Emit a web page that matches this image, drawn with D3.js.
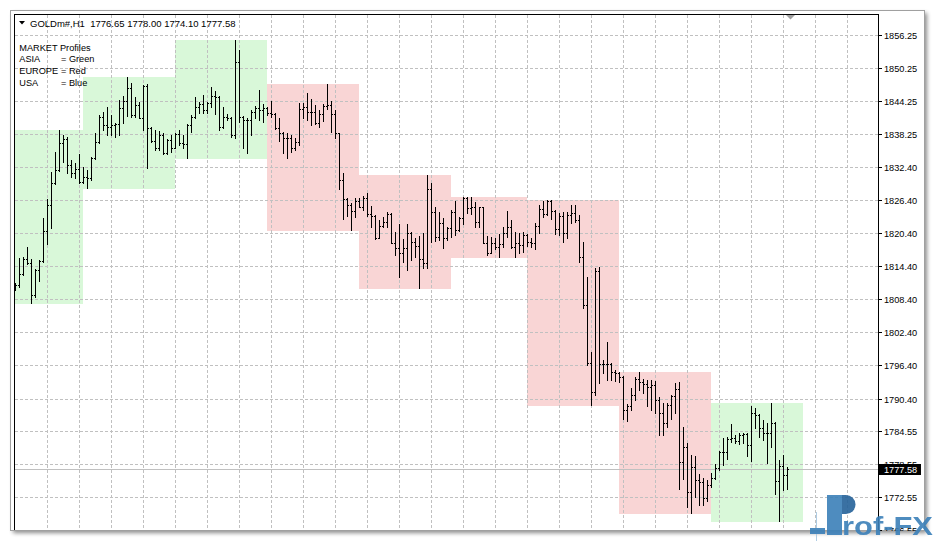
<!DOCTYPE html>
<html><head><meta charset="utf-8">
<script src="https://cdn.jsdelivr.net/npm/d3@7"></script>
<style>html,body{margin:0;padding:0;background:#fff;} svg{display:block;}</style>
</head><body><svg id="c" width="937" height="541"></svg>
<script>
// ---------------- data ----------------
const symbolTitle = "GOLDm#,H1";
const opens = [1810.40,1810.97,1812.96,1815.62,1814.89,1809.16,1813.69,1815.38,1820.74,1825.45,
1829.36,1831.78,1836.60,1837.32,1832.68,1831.29,1831.96,1829.67,1830.57,1830.27,
1833.89,1836.78,1841.43,1839.92,1839.62,1839.92,1840.04,1842.93,1844.26,1846.67,
1841.73,1843.54,1841.25,1847.03,1839.44,1837.02,1835.70,1838.11,1834.79,1837.21,
1835.82,1838.29,1836.60,1836.42,1839.92,1841.43,1843.24,1843.66,1842.63,1843.84,
1845.17,1845.04,1839.62,1841.43,1841.12,1838.11,1851.38,1841.43,1840.82,1840.82,
1842.21,1842.93,1842.63,1843.05,1842.03,1841.91,1839.32,1838.53,1837.51,1837.51,
1835.70,1836.91,1842.75,1843.12,1842.21,1842.33,1840.22,1841.91,1843.42,1843.54,
1841.91,1838.41,1829.97,1826.47,1825.45,1824.42,1826.23,1825.15,1826.65,1823.82,
1823.46,1819.54,1821.65,1822.43,1823.82,1818.63,1817.61,1816.83,1817.61,1820.44,
1818.69,1818.03,1815.62,1814.90,1828.28,1824.24,1819.72,1822.13,1819.42,1821.23,
1824.24,1820.93,1823.04,1826.65,1824.97,1825.15,1822.43,1825.03,1818.63,1816.83,
1818.51,1817.91,1818.39,1820.44,1821.41,1817.91,1818.51,1818.21,1820.02,1818.82,
1818.51,1821.65,1824.66,1823.82,1826.17,1824.42,1821.05,1823.46,1820.32,1823.64,
1823.94,1822.73,1816.10,1807.36,1796.80,1791.68,1813.57,1796.68,1796.68,1796.62,
1795.18,1795.12,1794.39,1788.36,1789.09,1791.08,1793.91,1793.49,1793.07,1792.58,
1792.89,1790.17,1787.76,1786.07,1789.27,1790.90,1792.10,1779.02,1781.73,1773.59,
1778.11,1775.70,1775.40,1772.40,1774.80,1776.00,1777.90,1780.80,1780.70,1783.10,
1783.24,1782.81,1783.84,1784.02,1782.03,1787.88,1787.46,1785.05,1784.14,1784.26,
1786.07,1775.58,1778.23,1776.65];
const highs = [1811.40,1815.80,1815.98,1817.79,1815.68,1813.81,1815.50,1823.15,1826.53,1831.48,
1834.97,1839.01,1838.11,1837.81,1833.59,1833.10,1834.67,1832.38,1831.78,1834.19,
1838.41,1841.73,1842.33,1843.24,1841.73,1840.22,1844.44,1845.23,1848.54,1847.46,
1845.04,1844.14,1847.15,1847.28,1839.62,1839.01,1838.83,1838.41,1837.39,1838.11,
1838.53,1839.01,1838.11,1840.04,1841.73,1845.04,1844.14,1845.35,1844.14,1846.85,
1846.07,1845.20,1843.24,1841.85,1841.43,1855.30,1853.49,1841.60,1841.12,1842.63,
1843.42,1846.25,1843.70,1843.24,1844.26,1842.15,1841.13,1838.71,1838.41,1838.11,
1837.51,1843.84,1843.84,1845.65,1844.56,1843.54,1842.63,1843.72,1847.34,1844.32,
1842.63,1838.50,1831.18,1826.65,1825.75,1826.65,1826.65,1827.08,1827.68,1825.27,
1823.60,1822.73,1823.34,1824.24,1823.94,1820.62,1822.01,1819.24,1822.01,1820.62,
1819.42,1819.84,1820.44,1830.88,1829.37,1825.15,1824.24,1823.04,1821.53,1824.54,
1826.23,1823.34,1826.84,1826.84,1826.84,1826.05,1825.15,1825.15,1819.84,1819.72,
1819.42,1820.20,1821.53,1824.42,1822.73,1820.62,1820.32,1820.62,1820.20,1819.42,
1822.20,1825.45,1826.23,1826.35,1826.35,1824.50,1823.94,1824.24,1824.24,1825.45,
1825.45,1823.64,1818.81,1812.48,1798.92,1813.99,1814.29,1797.41,1800.72,1796.80,
1795.60,1795.20,1794.51,1789.45,1792.28,1794.27,1795.30,1793.91,1793.79,1793.79,
1793.67,1790.77,1789.69,1789.57,1791.08,1793.31,1793.49,1785.23,1782.33,1780.22,
1780.04,1776.79,1776.00,1775.60,1777.00,1778.60,1781.00,1783.20,1783.50,1785.83,
1783.84,1784.26,1784.26,1784.20,1789.09,1788.66,1787.60,1786.55,1785.95,1789.57,
1786.25,1779.32,1780.22,1778.00];
const lows = [1810.07,1810.55,1812.78,1814.77,1807.66,1808.86,1811.76,1815.19,1818.33,1821.35,
1829.24,1831.60,1833.28,1831.29,1830.57,1830.27,1829.49,1829.50,1828.58,1829.97,
1833.77,1836.60,1839.01,1838.11,1838.11,1837.81,1838.11,1840.22,1841.61,1841.43,
1841.43,1841.12,1839.01,1832.08,1836.90,1835.40,1835.40,1834.70,1834.60,1835.09,
1835.70,1836.30,1835.70,1834.01,1838.71,1841.12,1842.03,1842.03,1842.03,1843.24,
1841.85,1839.01,1839.32,1840.82,1837.81,1837.51,1840.52,1835.70,1834.79,1838.11,
1841.12,1840.82,1840.52,1841.73,1841.43,1839.20,1837.09,1834.79,1833.89,1835.10,
1835.40,1836.30,1841.13,1840.82,1839.92,1840.10,1839.50,1840.70,1842.75,1838.71,
1837.51,1828.28,1822.86,1823.46,1820.93,1823.34,1825.03,1824.54,1823.46,1821.53,
1819.24,1819.42,1821.53,1821.53,1818.51,1816.40,1812.48,1815.20,1813.69,1815.50,
1816.10,1810.37,1813.99,1813.99,1818.82,1819.00,1819.12,1817.61,1819.12,1819.72,
1820.02,1820.80,1822.01,1823.94,1823.82,1821.53,1821.53,1818.51,1816.40,1816.70,
1817.43,1815.98,1817.91,1819.72,1817.61,1816.10,1816.83,1817.01,1818.03,1817.91,
1817.50,1820.32,1823.34,1823.70,1822.85,1820.20,1820.02,1818.81,1819.42,1822.13,
1822.43,1815.20,1806.75,1796.50,1789.27,1791.08,1793.19,1795.00,1793.79,1793.79,
1793.67,1793.49,1786.67,1786.43,1788.36,1790.17,1791.98,1791.38,1789.09,1788.36,
1787.76,1783.84,1783.84,1785.35,1786.67,1787.76,1774.01,1775.82,1770.76,1769.67,
1772.68,1771.18,1771.18,1771.80,1774.50,1775.90,1777.50,1778.40,1779.50,1782.63,
1782.45,1782.21,1782.33,1780.04,1779.20,1785.05,1783.54,1782.93,1778.83,1781.73,
1773.17,1768.34,1773.89,1774.10];
const closes = [1810.97,1812.96,1815.62,1814.89,1809.16,1813.69,1815.38,1820.74,1825.45,1829.36,
1831.78,1836.60,1837.32,1832.68,1831.29,1831.96,1829.67,1830.57,1830.27,1833.89,
1836.78,1841.43,1839.92,1839.62,1839.92,1840.04,1842.93,1844.26,1846.67,1841.73,
1843.54,1841.25,1847.03,1839.44,1837.02,1835.70,1838.11,1834.79,1837.21,1835.82,
1838.29,1836.60,1836.42,1839.92,1841.43,1843.24,1843.66,1842.63,1843.84,1845.17,
1845.04,1839.62,1841.43,1841.12,1838.11,1851.38,1841.43,1840.82,1840.82,1842.21,
1842.93,1842.63,1843.05,1842.03,1841.91,1839.32,1838.53,1837.51,1837.51,1835.70,
1836.91,1842.75,1843.12,1842.21,1842.33,1840.22,1841.91,1843.42,1843.54,1841.91,
1838.41,1829.97,1826.47,1825.45,1824.42,1826.23,1825.15,1826.65,1823.82,1823.46,
1819.54,1821.65,1822.43,1823.82,1818.63,1817.61,1816.83,1817.61,1820.44,1818.69,
1818.03,1815.62,1814.90,1828.28,1824.24,1819.72,1822.13,1819.42,1821.23,1824.24,
1820.93,1823.04,1826.65,1824.97,1825.15,1822.43,1825.03,1818.63,1816.83,1818.51,
1817.91,1818.39,1820.44,1821.41,1817.91,1818.51,1818.21,1820.02,1818.82,1818.51,
1821.65,1824.66,1823.82,1826.17,1824.42,1821.05,1823.46,1820.32,1823.64,1823.94,
1822.73,1816.10,1807.36,1796.80,1791.68,1813.57,1796.68,1796.68,1796.62,1795.18,
1795.12,1794.39,1788.36,1789.09,1791.08,1793.91,1793.49,1793.07,1792.58,1792.89,
1790.17,1787.76,1786.07,1789.27,1790.90,1792.10,1779.02,1781.73,1773.59,1778.11,
1775.70,1775.40,1772.40,1774.80,1776.00,1777.90,1780.80,1780.70,1783.10,1783.24,
1782.81,1783.84,1784.02,1782.03,1787.88,1787.46,1785.05,1784.14,1784.26,1786.07,
1775.58,1778.23,1776.65,1777.58];

const sessionStart = [0, 17, 40, 63, 86, 109, 128, 151, 174];
const sessionEnd   = [16, 39, 62, 85, 108, 127, 150, 173, 196];
const sessionName  = ["ASIA","ASIA","ASIA","EUROPE","EUROPE","EUROPE","EUROPE","EUROPE","ASIA"];
const sessionColor = {ASIA: "#d9f8d9", EUROPE: "#f9d5d5", USA: "#d6dcf9"};

const legendLeft  = ["MARKET Profiles", "ASIA", "EUROPE", "USA"];
const legendRight = ["", "= Green", "= Red", "= Blue"];

const priceTicks = [1856.25,1850.25,1844.25,1838.25,1832.40,1826.40,1820.40,1814.40,
                    1808.40,1802.40,1796.40,1790.40,1784.55,1778.55,1772.55,1766.55];
const gridEveryBars = 8;
const totalSlots = 216;

// ---------------- drawing ----------------
const svg = d3.select("#c");
const L = 15, T = 15, R = 878, B = 529;
const font = "'Liberation Sans', Arial, sans-serif";
const n = closes.length;

const x = d3.scaleLinear().domain([0, totalSlots]).range([15, 15 + 4 * totalSlots]);
const y = d3.scaleLinear().domain([1772.55, 1856.25]).range([497.3, 34.7]);
const ry = v => Math.round(y(v));

const defs = svg.append("defs");
const f = defs.append("filter").attr("id", "sh").attr("x", "-5%").attr("y", "-5%").attr("width", "110%").attr("height", "110%");
f.append("feGaussianBlur").attr("stdDeviation", 2);
defs.append("clipPath").attr("id", "plot").append("rect")
  .attr("x", L).attr("y", T).attr("width", R - L).attr("height", B - T);
defs.append("clipPath").attr("id", "axisclip").append("rect")
  .attr("x", R).attr("y", 12).attr("width", 46).attr("height", 519);

// window + shadow
svg.append("rect").attr("x", 13).attr("y", 13).attr("width", 914).attr("height", 520)
  .attr("fill", "#000").attr("opacity", 0.45).attr("filter", "url(#sh)");
svg.append("rect").attr("x", 10.5).attr("y", 10.5).attr("width", 914).attr("height", 520)
  .attr("fill", "#fff").attr("stroke", "#a0a0a0");

const plot = svg.append("g").attr("clip-path", "url(#plot)").attr("shape-rendering", "crispEdges");

// session boxes (height = session high/low)
sessionStart.forEach((a, k) => {
  const b = Math.min(sessionEnd[k], n - 1);
  const hi = d3.max(highs.slice(a, b + 1));
  const lo = d3.min(lows.slice(a, b + 1));
  plot.append("rect")
    .attr("x", x(a)).attr("width", x(sessionEnd[k] + 1) - x(a))
    .attr("y", ry(hi)).attr("height", ry(lo) - ry(hi) + 1)
    .attr("fill", sessionColor[sessionName[k]]);
});

// grid
plot.selectAll(".hg").data(priceTicks).join("line")
  .attr("x1", L).attr("x2", R)
  .attr("y1", d => ry(d) + 0.5).attr("y2", d => ry(d) + 0.5)
  .attr("stroke", "#c0c0c0").attr("stroke-dasharray", "3,2");
const vIdx = d3.range(gridEveryBars, totalSlots, gridEveryBars).filter(i => x(i) < R);
plot.selectAll(".vg").data(vIdx).join("line")
  .attr("x1", d => x(d) + 0.5).attr("x2", d => x(d) + 0.5)
  .attr("y1", T).attr("y2", B)
  .attr("stroke", "#c0c0c0").attr("stroke-dasharray", "3,2");

// current price line
const last = closes[n - 1];
plot.append("line").attr("x1", L).attr("x2", R)
  .attr("y1", ry(last) + 0.5).attr("y2", ry(last) + 0.5)
  .attr("stroke", "#c0c0c0");

// OHLC bars
const idx = d3.range(n);
const bars = plot.append("g").attr("fill", "#000");
bars.selectAll(".hl").data(idx).join("rect")
  .attr("x", i => x(i)).attr("width", 1)
  .attr("y", i => ry(highs[i])).attr("height", i => Math.max(1, ry(lows[i]) - ry(highs[i]) + 1));
bars.selectAll(".op").data(idx).join("rect")
  .attr("x", i => x(i) - 1).attr("width", 1)
  .attr("y", i => ry(opens[i])).attr("height", 1);
bars.selectAll(".cl").data(idx).join("rect")
  .attr("x", i => x(i) + 1).attr("width", 1)
  .attr("y", i => ry(closes[i])).attr("height", 1);

// frame
const fr = svg.append("g").attr("stroke", "#000").attr("shape-rendering", "crispEdges");
fr.append("line").attr("x1", 14.5).attr("x2", 14.5).attr("y1", 14).attr("y2", B + 1);
fr.append("line").attr("x1", 14).attr("x2", R + 1).attr("y1", 14.5).attr("y2", 14.5);
fr.append("line").attr("x1", R + 0.5).attr("x2", R + 0.5).attr("y1", 14).attr("y2", B + 1);

// chart shift marker
const cx = x(n) - 0.5;
svg.append("path").attr("d", `M${cx - 4.5},15 L${cx + 4.5},15 L${cx},19.5 Z`).attr("fill", "#a0a0a0");

// price axis
const ax = svg.append("g").attr("clip-path", "url(#axisclip)")
  .attr("font-family", font).attr("font-size", "9.2px").attr("fill", "#000");
priceTicks.forEach(p => {
  const yy = ry(p) + 0.5;
  ax.append("line").attr("x1", R + 1).attr("x2", R + 4).attr("y1", yy).attr("y2", yy)
    .attr("stroke", "#000").attr("shape-rendering", "crispEdges");
  ax.append("text").attr("x", 884).attr("y", yy + 3.3).text(d3.format(".2f")(p));
});
// current price label
const ly = ry(last) + 0.5;
svg.append("rect").attr("x", 879).attr("y", ly - 5.5).attr("width", 42).attr("height", 11).attr("fill", "#000");
svg.append("text").attr("x", 884).attr("y", ly + 3.3).attr("font-family", font).attr("font-size", "9.2px")
  .attr("fill", "#fff").text(d3.format(".2f")(last));

// header
svg.append("path").attr("d", "M19,21 L25,21 L22,24.5 Z").attr("fill", "#000");
svg.append("text").attr("x", 30).attr("y", 26.7).attr("font-family", font).attr("font-size", "9.5px")
  .attr("fill", "#000").attr("xml:space", "preserve")
  .text(`${symbolTitle}  ${d3.format(".2f")(opens[n-1])} ${d3.format(".2f")(highs[n-1])} ${d3.format(".2f")(lows[n-1])} ${d3.format(".2f")(closes[n-1])}`);

// legend
const lg = svg.append("g").attr("font-family", font).attr("font-size", "9.2px").attr("fill", "#000");
legendLeft.forEach((t, k) => {
  const by = 50.7 + k * 11.7;
  lg.append("text").attr("x", 19.3).attr("y", by).text(t);
  if (legendRight[k]) lg.append("text").attr("x", 61).attr("y", by).text(legendRight[k]);
});

// watermark logo
const logo = svg.append("g").attr("opacity", 0.9);
logo.append("line").attr("x1", 816.5).attr("x2", 816.5).attr("y1", 512).attr("y2", 541).attr("stroke", "#a8c8e2");
logo.append("rect").attr("x", 810).attr("y", 528).attr("width", 15).attr("height", 6).attr("fill", "#3b80b9");
logo.append("rect").attr("x", 827).attr("y", 495).attr("width", 15).attr("height", 40).attr("fill", "#3b80b9");
logo.append("path").attr("d", "M842,495 h4 a9.5,9.5 0 0 1 0,19 h-4 Z").attr("fill", "#25629a");
logo.append("text").attr("x", 842).attr("y", 535).attr("font-family", font).attr("font-weight", "bold")
  .attr("font-size", "25px").attr("fill", "#3b80b9").attr("textLength", 91).attr("lengthAdjust", "spacingAndGlyphs")
  .text("rof-FX");
</script></body></html>
